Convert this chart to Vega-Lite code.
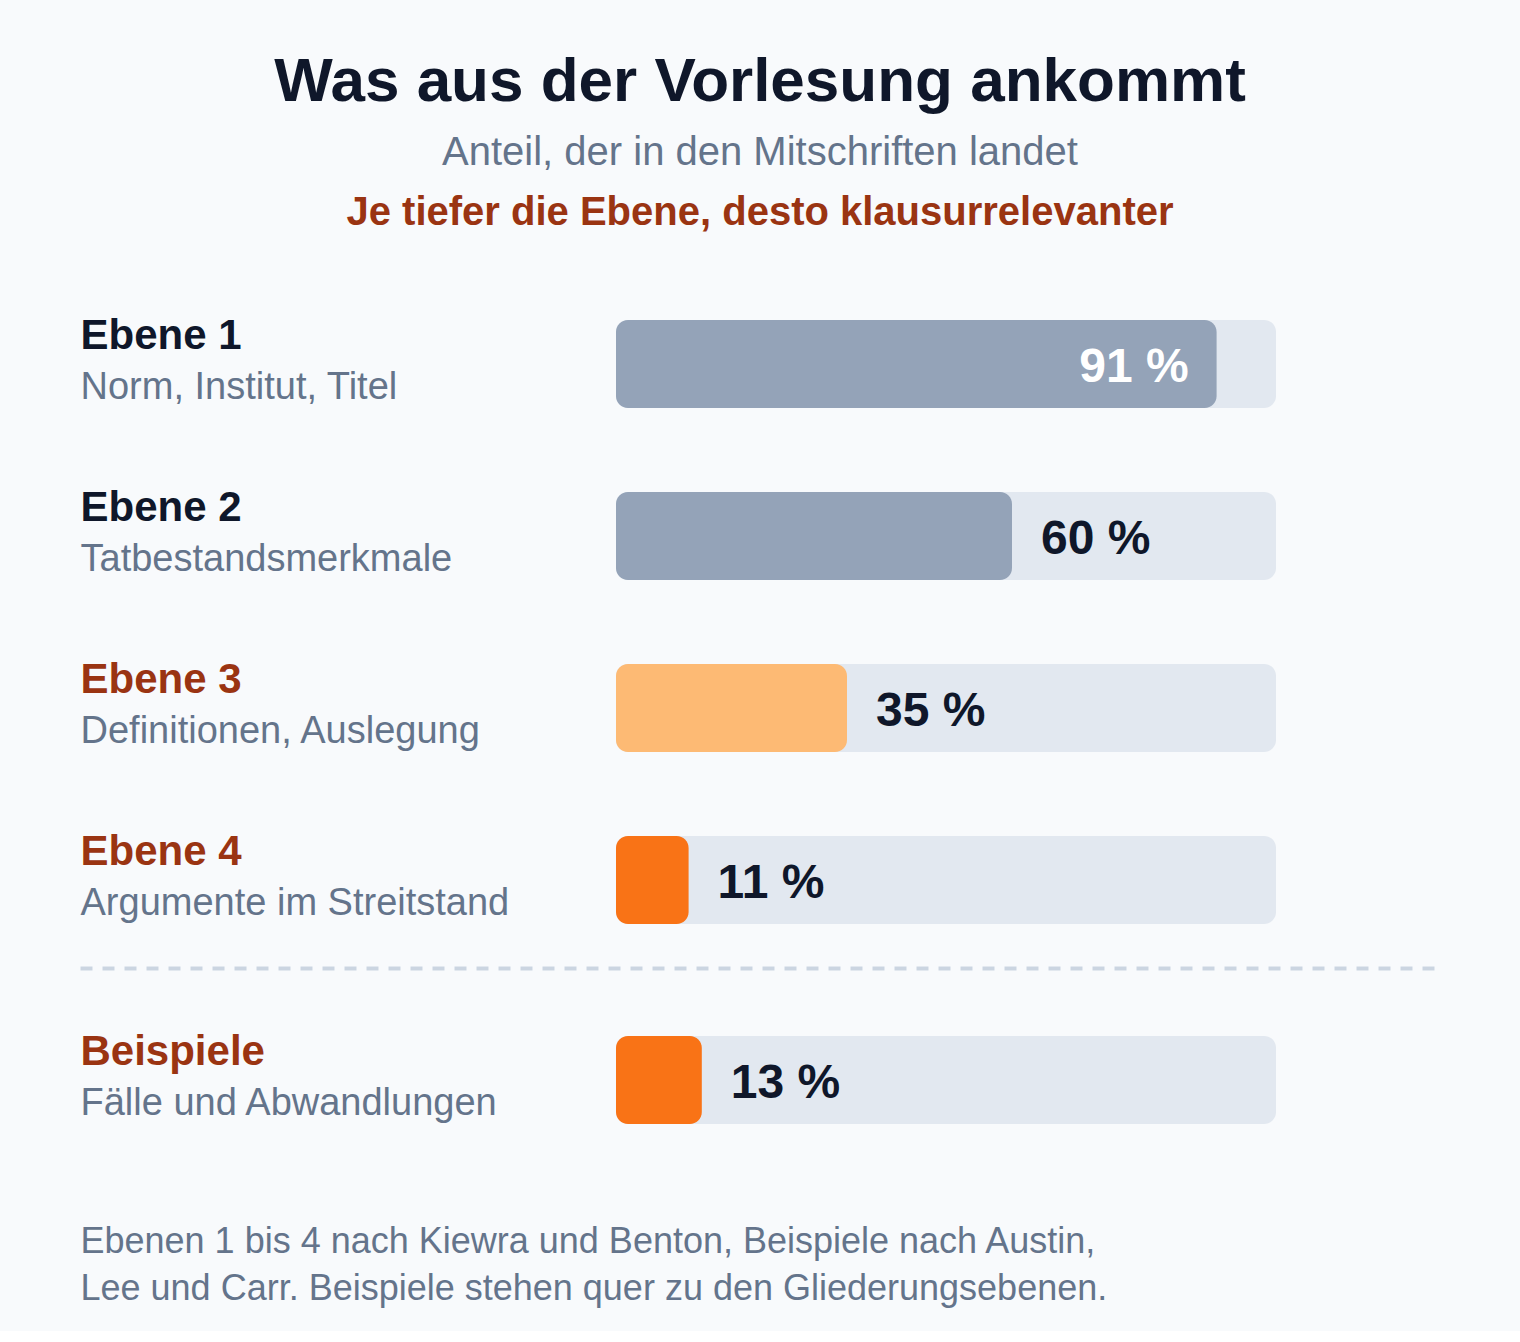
{
  "$schema": "https://vega.github.io/schema/vega-lite/v6.json",
  "background": "#f8fafc",
  "padding": {"top": 50, "left": 80, "right": 80, "bottom": 25},
  "title": {
    "text": "Was aus der Vorlesung ankommt",
    "subtitle": "Anteil, der in den Mitschriften landet",
    "anchor": "middle",
    "font": "Liberation Sans, Arial, Helvetica, sans-serif",
    "fontSize": 62,
    "fontWeight": "bold",
    "color": "#0f172a",
    "subtitleFont": "Liberation Sans, Arial, Helvetica, sans-serif",
    "subtitleFontSize": 40,
    "subtitleFontWeight": "normal",
    "subtitleColor": "#64748b",
    "subtitlePadding": 19.6,
    "offset": 19
  },
  "datasets": {
    "ebenen": [
      {"ebene": "Ebene 1", "beschreibung": "Norm, Institut, Titel", "anteil": 91},
      {"ebene": "Ebene 2", "beschreibung": "Tatbestandsmerkmale", "anteil": 60},
      {"ebene": "Ebene 3", "beschreibung": "Definitionen, Auslegung", "anteil": 35},
      {"ebene": "Ebene 4", "beschreibung": "Argumente im Streitstand", "anteil": 11}
    ],
    "beispiele": [
      {"ebene": "Beispiele", "beschreibung": "Fälle und Abwandlungen", "anteil": 13}
    ]
  },
  "spacing": 26,
  "vconcat": [
    {
      "width": 1360,
      "height": 688,
      "data": {"name": "ebenen"},
      "title": {
        "text": "Je tiefer die Ebene, desto klausurrelevanter",
        "anchor": "middle",
        "font": "Liberation Sans, Arial, Helvetica, sans-serif",
        "fontSize": 40,
        "fontWeight": "bold",
        "color": "#9a3412",
        "offset": 44.6
      },
      "layer": [
        {
          "mark": {"type": "bar", "color": "#e2e8f0", "cornerRadius": 12},
          "encoding": {
            "x": {"datum": 0, "type": "quantitative",
              "scale": {"domain": [-81.2121, 124.8485], "nice": false, "zero": false},
              "axis": {"orient": "bottom", "domain": true, "domainColor": "#cbd5e1", "domainWidth": 4, "domainDash": [12, 10], "domainCap": "butt", "labels": false, "ticks": false, "tickSize": 0, "grid": false, "title": null, "offset": 2}},
            "x2": {"datum": 100},
            "y": {"field": "ebene", "type": "nominal",
              "scale": {"type": "band", "domain": ["Ebene 1", "Ebene 2", "Ebene 3", "Ebene 4"], "paddingInner": 0.4884, "paddingOuter": 0.2442},
              "axis": {"orient": "left", "domain": false, "ticks": false, "tickSize": 0, "grid": false, "title": null,
                "labelAlign": "left", "labelBaseline": "alphabetic", "labelPadding": 0, "labelOffset": -15,
                "labelFont": "Liberation Sans, Arial, Helvetica, sans-serif", "labelFontSize": 42, "labelFontWeight": "bold",
                "labelColor": {"condition": {"test": "datum.value == 'Ebene 1' || datum.value == 'Ebene 2'", "value": "#0f172a"}, "value": "#9a3412"},
                "labelLimit": 700, "labelOverlap": false}}
          }
        },
        {
          "mark": {"type": "bar", "cornerRadius": 12},
          "encoding": {
            "x": {"field": "anteil", "type": "quantitative",
              "scale": {"domain": [-81.2121, 124.8485], "nice": false, "zero": false},
              "axis": {"orient": "bottom", "domain": true, "domainColor": "#cbd5e1", "domainWidth": 4, "domainDash": [12, 10], "domainCap": "butt", "labels": false, "ticks": false, "tickSize": 0, "grid": false, "title": null, "offset": 2}},
            "x2": {"datum": 0},
            "y": {"field": "beschreibung", "type": "nominal",
              "scale": {"type": "band", "domain": ["Norm, Institut, Titel", "Tatbestandsmerkmale", "Definitionen, Auslegung", "Argumente im Streitstand"], "paddingInner": 0.4884, "paddingOuter": 0.2442},
              "axis": {"orient": "left", "domain": false, "ticks": false, "tickSize": 0, "grid": false, "title": null,
                "labelAlign": "left", "labelBaseline": "alphabetic", "labelPadding": 0, "labelOffset": 35,
                "labelFont": "Liberation Sans, Arial, Helvetica, sans-serif", "labelFontSize": 38, "labelFontWeight": "normal",
                "labelColor": "#64748b", "labelLimit": 700, "labelOverlap": false}},
            "color": {"field": "ebene", "type": "nominal",
              "scale": {"domain": ["Ebene 1", "Ebene 2", "Ebene 3", "Ebene 4", "Beispiele"], "range": ["#94a3b8", "#94a3b8", "#fdba74", "#f97316", "#f97316"]},
              "legend": null}
          }
        },
        {
          "mark": {"type": "text", "font": "Liberation Sans, Arial, Helvetica, sans-serif", "fontSize": 48, "fontWeight": "bold",
            "baseline": "alphabetic", "dy": 18,
            "align": {"expr": "datum.anteil > 80 ? 'right' : 'left'"},
            "dx": {"expr": "datum.anteil > 80 ? -28 : 29"},
            "text": {"expr": "datum.anteil + ' %'"}},
          "encoding": {
            "x": {"field": "anteil", "type": "quantitative",
              "scale": {"domain": [-81.2121, 124.8485], "nice": false, "zero": false},
              "axis": {"orient": "bottom", "domain": true, "domainColor": "#cbd5e1", "domainWidth": 4, "domainDash": [12, 10], "domainCap": "butt", "labels": false, "ticks": false, "tickSize": 0, "grid": false, "title": null, "offset": 2}},
            "y": {"field": "ebene", "type": "nominal",
              "scale": {"type": "band", "domain": ["Ebene 1", "Ebene 2", "Ebene 3", "Ebene 4"], "paddingInner": 0.4884, "paddingOuter": 0.2442},
              "axis": null},
            "color": {"condition": {"test": "datum.anteil > 80", "value": "#ffffff"}, "value": "#0f172a"}
          }
        }
      ],
      "resolve": {"scale": {"y": "independent"}, "axis": {"y": "independent"}}
    },
    {
      "width": 1360,
      "height": 172,
      "data": {"name": "beispiele"},
      "layer": [
        {
          "mark": {"type": "bar", "color": "#e2e8f0", "cornerRadius": 12},
          "encoding": {
            "x": {"datum": 0, "type": "quantitative",
              "scale": {"domain": [-81.2121, 124.8485], "nice": false, "zero": false},
              "axis": {"orient": "bottom", "domain": false, "labels": false, "ticks": false, "tickSize": 0, "grid": false,
                "title": ["Ebenen 1 bis 4 nach Kiewra und Benton, Beispiele nach Austin,", "Lee und Carr. Beispiele stehen quer zu den Gliederungsebenen."],
                "titleAnchor": "start", "titleAlign": "left", "titleBaseline": "top",
                "titleFont": "Liberation Sans, Arial, Helvetica, sans-serif", "titleFontSize": 36, "titleFontWeight": "normal",
                "titleColor": "#64748b", "titleLineHeight": 47, "titlePadding": 58}},
            "x2": {"datum": 100},
            "y": {"field": "ebene", "type": "nominal",
              "scale": {"type": "band", "domain": ["Beispiele"], "paddingInner": 0.4884, "paddingOuter": 0.2442},
              "axis": {"orient": "left", "domain": false, "ticks": false, "tickSize": 0, "grid": false, "title": null,
                "labelAlign": "left", "labelBaseline": "alphabetic", "labelPadding": 0, "labelOffset": -15,
                "labelFont": "Liberation Sans, Arial, Helvetica, sans-serif", "labelFontSize": 42, "labelFontWeight": "bold",
                "labelColor": "#9a3412", "labelLimit": 700, "labelOverlap": false}}
          }
        },
        {
          "mark": {"type": "bar", "cornerRadius": 12},
          "encoding": {
            "x": {"field": "anteil", "type": "quantitative",
              "scale": {"domain": [-81.2121, 124.8485], "nice": false, "zero": false},
              "axis": {"orient": "bottom", "domain": false, "labels": false, "ticks": false, "tickSize": 0, "grid": false,
                "title": ["Ebenen 1 bis 4 nach Kiewra und Benton, Beispiele nach Austin,", "Lee und Carr. Beispiele stehen quer zu den Gliederungsebenen."],
                "titleAnchor": "start", "titleAlign": "left", "titleBaseline": "top",
                "titleFont": "Liberation Sans, Arial, Helvetica, sans-serif", "titleFontSize": 36, "titleFontWeight": "normal",
                "titleColor": "#64748b", "titleLineHeight": 47, "titlePadding": 58}},
            "x2": {"datum": 0},
            "y": {"field": "beschreibung", "type": "nominal",
              "scale": {"type": "band", "domain": ["Fälle und Abwandlungen"], "paddingInner": 0.4884, "paddingOuter": 0.2442},
              "axis": {"orient": "left", "domain": false, "ticks": false, "tickSize": 0, "grid": false, "title": null,
                "labelAlign": "left", "labelBaseline": "alphabetic", "labelPadding": 0, "labelOffset": 35,
                "labelFont": "Liberation Sans, Arial, Helvetica, sans-serif", "labelFontSize": 38, "labelFontWeight": "normal",
                "labelColor": "#64748b", "labelLimit": 700, "labelOverlap": false}},
            "color": {"field": "ebene", "type": "nominal",
              "scale": {"domain": ["Ebene 1", "Ebene 2", "Ebene 3", "Ebene 4", "Beispiele"], "range": ["#94a3b8", "#94a3b8", "#fdba74", "#f97316", "#f97316"]},
              "legend": null}
          }
        },
        {
          "mark": {"type": "text", "font": "Liberation Sans, Arial, Helvetica, sans-serif", "fontSize": 48, "fontWeight": "bold",
            "baseline": "alphabetic", "dy": 18,
            "align": {"expr": "datum.anteil > 80 ? 'right' : 'left'"},
            "dx": {"expr": "datum.anteil > 80 ? -28 : 29"},
            "text": {"expr": "datum.anteil + ' %'"}},
          "encoding": {
            "x": {"field": "anteil", "type": "quantitative",
              "scale": {"domain": [-81.2121, 124.8485], "nice": false, "zero": false},
              "axis": {"orient": "bottom", "domain": false, "labels": false, "ticks": false, "tickSize": 0, "grid": false,
                "title": ["Ebenen 1 bis 4 nach Kiewra und Benton, Beispiele nach Austin,", "Lee und Carr. Beispiele stehen quer zu den Gliederungsebenen."],
                "titleAnchor": "start", "titleAlign": "left", "titleBaseline": "top",
                "titleFont": "Liberation Sans, Arial, Helvetica, sans-serif", "titleFontSize": 36, "titleFontWeight": "normal",
                "titleColor": "#64748b", "titleLineHeight": 47, "titlePadding": 58}},
            "y": {"field": "ebene", "type": "nominal",
              "scale": {"type": "band", "domain": ["Beispiele"], "paddingInner": 0.4884, "paddingOuter": 0.2442},
              "axis": null},
            "color": {"condition": {"test": "datum.anteil > 80", "value": "#ffffff"}, "value": "#0f172a"}
          }
        }
      ],
      "resolve": {"scale": {"y": "independent"}, "axis": {"y": "independent"}}
    }
  ],
  "config": {
    "view": {"stroke": null},
    "axis": {"grid": false}
  }
}
